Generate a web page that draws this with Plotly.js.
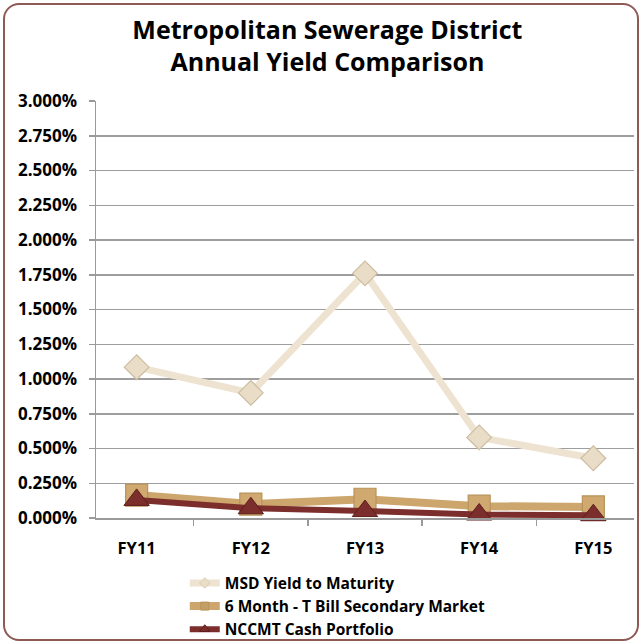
<!DOCTYPE html>
<html>
<head>
<meta charset="utf-8">
<script src="https://cdn.plot.ly/plotly-3.0.1.min.js"></script>
<style>
html,body{margin:0;padding:0;background:#fff;}
#chart{position:absolute;left:0;top:0;}
#frame{position:absolute;left:3px;top:3px;width:632px;height:634px;border:2px solid #8E5A55;border-radius:16px;pointer-events:none;}
</style>
</head>
<body>
<div id="chart"></div>
<div id="frame"></div>
<script>
const categories = ["FY11", "FY12", "FY13", "FY14", "FY15"];
const msdYield = [1.085, 0.90, 1.76, 0.58, 0.43];
const tBill = [0.165, 0.10, 0.135, 0.085, 0.08];
const nccmt = [0.13, 0.07, 0.05, 0.025, 0.02];
const seriesNames = ["MSD Yield to Maturity", "6 Month - T Bill Secondary Market", "NCCMT Cash Portfolio"];
const yTicks = [0, 0.25, 0.5, 0.75, 1.0, 1.25, 1.5, 1.75, 2.0, 2.25, 2.5, 2.75, 3.0];
const yTickText = yTicks.map(v => v.toFixed(3) + "%");

const FONT = "'Open Sans', 'Liberation Sans', sans-serif";

const styles = [
  {line: {color: "#EEE3D0", width: 7},
   marker: {symbol: "diamond", size: 19, color: "#E9DDC8", line: {color: "#CDBDA0", width: 1.2}},
   legendMarker: {symbol: "diamond", size: 8, color: "#E9DDC8", line: {color: "#DCCDB2", width: 1}}},
  {line: {color: "#CCA66C", width: 8},
   marker: {symbol: "square", size: 22, color: "#CFA96F", line: {color: "#B8925A", width: 1.2}},
   legendMarker: {symbol: "square", size: 8, color: "#C39F66", line: {color: "#B8925A", width: 1}}},
  {line: {color: "#7B2E2B", width: 6},
   marker: {symbol: "triangle-up", size: 22, color: "#7B2E2B", line: {color: "#5E1E1C", width: 1}},
   legendMarker: {symbol: "triangle-up", size: 9, color: "#7B2E2B", line: {color: "#5E1E1C", width: 1}}}
];
const values = [msdYield, tBill, nccmt];

const traces = [];
values.forEach((vals, i) => {
  traces.push({
    x: categories, y: vals, name: seriesNames[i], type: "scatter", mode: "lines+markers",
    line: styles[i].line, marker: styles[i].marker, cliponaxis: false, showlegend: false
  });
});
// legend entries (no data drawn), with small markers like the reference legend
values.forEach((vals, i) => {
  traces.push({
    x: [null], y: [null], name: seriesNames[i], type: "scatter", mode: "lines+markers",
    line: styles[i].line, marker: styles[i].legendMarker, showlegend: true
  });
});

const layout = {
  width: 642, height: 644,
  margin: {l: 96, r: 8, t: 101, b: 126, autoexpand: false},
  paper_bgcolor: "rgba(0,0,0,0)",
  plot_bgcolor: "#fff",
  font: {family: FONT, color: "#000"},
  title: {
    text: "<b>Metropolitan Sewerage District<br>Annual Yield Comparison</b>",
    x: 0.51, xanchor: "center", yref: "container", y: 0.94, yanchor: "middle",
    font: {family: FONT, size: 25, color: "#000"}
  },
  xaxis: {
    type: "category",
    tickfont: {family: FONT, size: 16.5, color: "#000", weight: "bold"},
    showgrid: false,
    showline: true, linecolor: "#9A9A9A", linewidth: 1.5,
    ticks: "outside", ticklen: 6, tickcolor: "#9A9A9A", tickwidth: 1.5,
    tickson: "boundaries",
    ticklabelstandoff: 15,
    zeroline: false,
    automargin: false
  },
  yaxis: {
    range: [0, 3],
    tickmode: "array",
    tickvals: yTicks,
    ticktext: yTickText,
    tickfont: {family: FONT, size: 17, color: "#000", weight: "bold"},
    showgrid: true, gridcolor: "#9E9E9E", gridwidth: 1.5,
    showline: true, linecolor: "#9A9A9A", linewidth: 1.5,
    ticks: "outside", ticklen: 6, tickcolor: "#9A9A9A", tickwidth: 1.5,
    ticklabelstandoff: 8,
    zeroline: false,
    automargin: false
  },
  showlegend: true,
  legend: {
    orientation: "v", x: 0.165, xanchor: "left", y: -0.116, yanchor: "top",
    font: {family: FONT, size: 15.5, color: "#000", weight: "bold"},
    itemwidth: 30, tracegroupgap: 0, borderwidth: 0,
    bgcolor: "rgba(0,0,0,0)"
  }
};

Plotly.newPlot("chart", traces, layout, {displayModeBar: false, staticPlot: true});
</script>
</body>
</html>
